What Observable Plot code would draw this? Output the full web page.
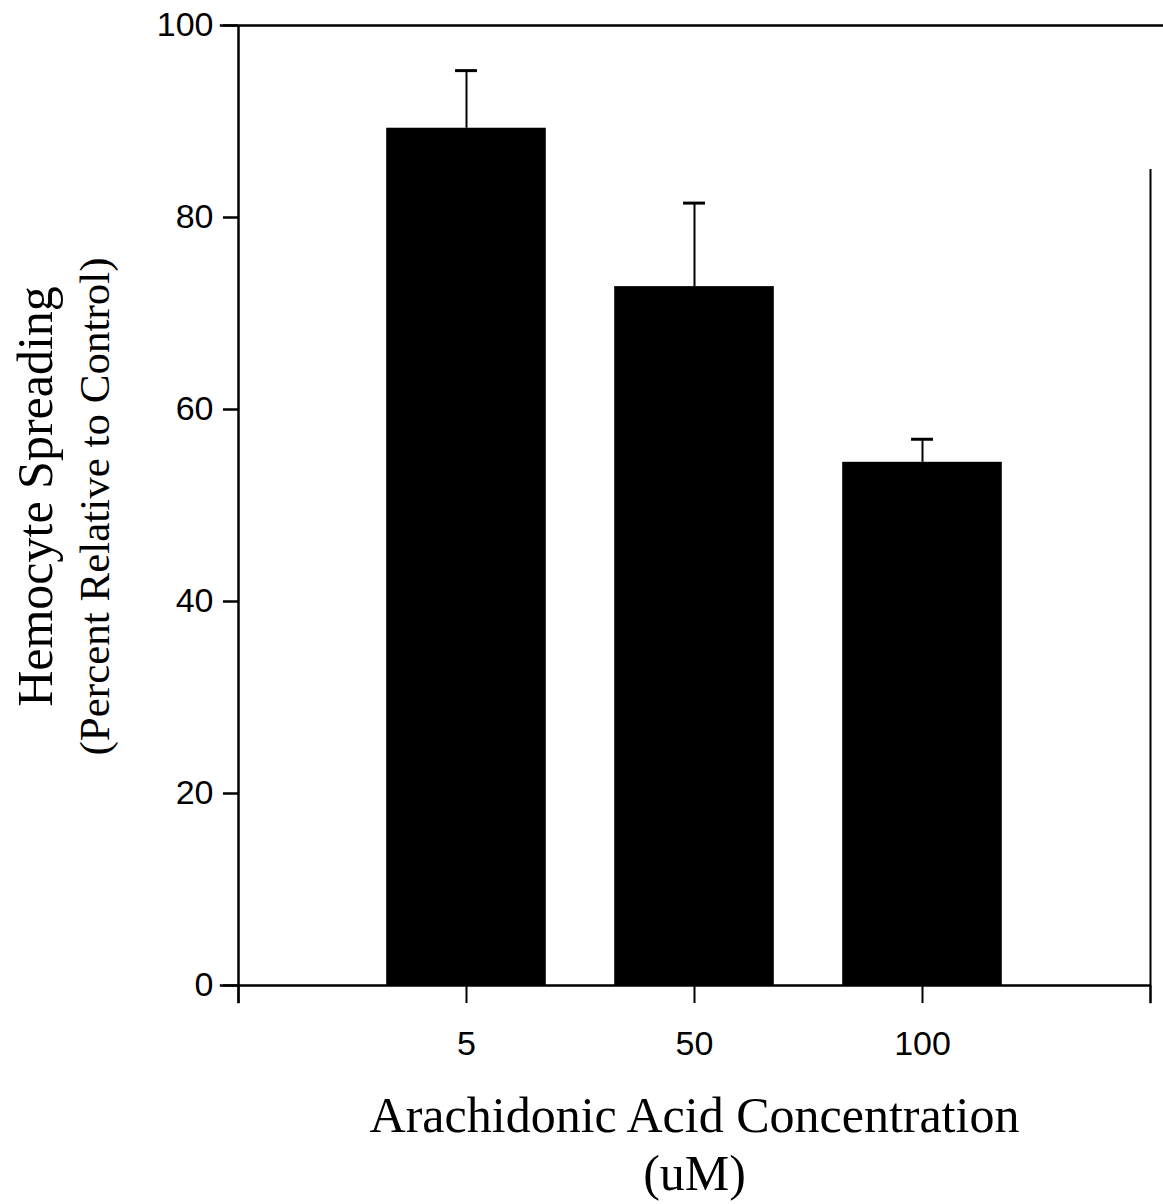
<!DOCTYPE html>
<html>
<head>
<meta charset="utf-8">
<script src="https://cdn.jsdelivr.net/npm/d3@7"></script>
<script src="https://cdn.jsdelivr.net/npm/@observablehq/plot@0.6"></script>
<style>
  html, body { margin: 0; padding: 0; background: #fff; }
  #chart svg { display: block; }
</style>
</head>
<body>
<div id="chart"></div>
<script>
// Arachidonic acid concentration (uM) and hemocyte spreading, % of control
const concentrations = ["5", "50", "100"];
const spreading = [89.3, 72.8, 54.5];
const errorUp = [6.0, 8.7, 2.4];
const yTicks = [0, 20, 40, 60, 80, 100];

// each concentration sits at slot 1..3 on a 0..4 axis
const rows = concentrations.map((c, i) => ({
  conc: c, slot: i + 1, value: spreading[i], err: errorUp[i]
}));
const slotLabels = ["", ...concentrations, ""];

const halfBar = 0.35;
const halfCap = 0.048;
const serif = "'Liberation Serif', 'Times New Roman', serif";
const sans = "'Liberation Sans', Arial, sans-serif";

const plot = Plot.plot({
  width: 1163,
  height: 1204,
  marginLeft: 238,
  marginRight: 13,
  marginTop: 25,
  marginBottom: 219,
  style: { background: "#fff", color: "#000", fontFamily: sans },
  x: { type: "linear", domain: [0, 4], axis: null },
  y: { domain: [0, 100], axis: null },
  marks: [
    // bars
    Plot.rect(rows, {
      x1: d => d.slot - halfBar, x2: d => d.slot + halfBar,
      y1: 0, y2: "value", fill: "#000"
    }),
    // upper error bars with caps
    Plot.ruleX(rows, { x: "slot", y1: "value", y2: d => d.value + d.err, stroke: "#000", strokeWidth: 2 }),
    Plot.ruleY(rows, {
      y: d => d.value + d.err,
      x1: d => d.slot - halfCap, x2: d => d.slot + halfCap,
      stroke: "#000", strokeWidth: 3
    }),
    // frame lines
    Plot.ruleX([0], { y1: -1.9, y2: 100, stroke: "#000", strokeWidth: 2.5 }),
    Plot.ruleY([0], { x1: -0.08, x2: 4, stroke: "#000", strokeWidth: 2.5 }),
    Plot.ruleY([100], { x1: -0.08, x2: 4.06, stroke: "#000", strokeWidth: 2.5, clip: false }),
    Plot.ruleX([4], { y1: -1.9, y2: 85, stroke: "#000", strokeWidth: 2 }),
    // axes
    Plot.axisY({
      ticks: yTicks, tickSize: 15, tickPadding: 10, fontSize: 34,
      strokeWidth: 2.5, fontFamily: sans, label: null
    }),
    Plot.axisX({
      ticks: [0, 1, 2, 3, 4], tickFormat: i => slotLabels[i],
      tickSize: 18, tickPadding: 27, fontSize: 34, strokeWidth: 2,
      fontFamily: sans, label: null
    }),
    // axis titles
    Plot.text(["Hemocyte Spreading"], {
      frameAnchor: "left", dx: -203, dy: -9, rotate: -90,
      textAnchor: "middle", lineAnchor: "middle",
      fontSize: 50, fontFamily: serif, fill: "#000"
    }),
    Plot.text(["(Percent Relative to Control)"], {
      frameAnchor: "left", dx: -143, dy: 1, rotate: -90,
      textAnchor: "middle", lineAnchor: "middle",
      fontSize: 43, fontFamily: serif, fill: "#000"
    }),
    Plot.text(["Arachidonic Acid Concentration"], {
      frameAnchor: "bottom", dy: 130, lineAnchor: "middle",
      fontSize: 50, fontFamily: serif, fill: "#000"
    }),
    Plot.text(["(uM)"], {
      frameAnchor: "bottom", dy: 188, lineAnchor: "middle",
      fontSize: 50, fontFamily: serif, fill: "#000"
    })
  ]
});

document.getElementById("chart").appendChild(plot);
</script>
</body>
</html>
